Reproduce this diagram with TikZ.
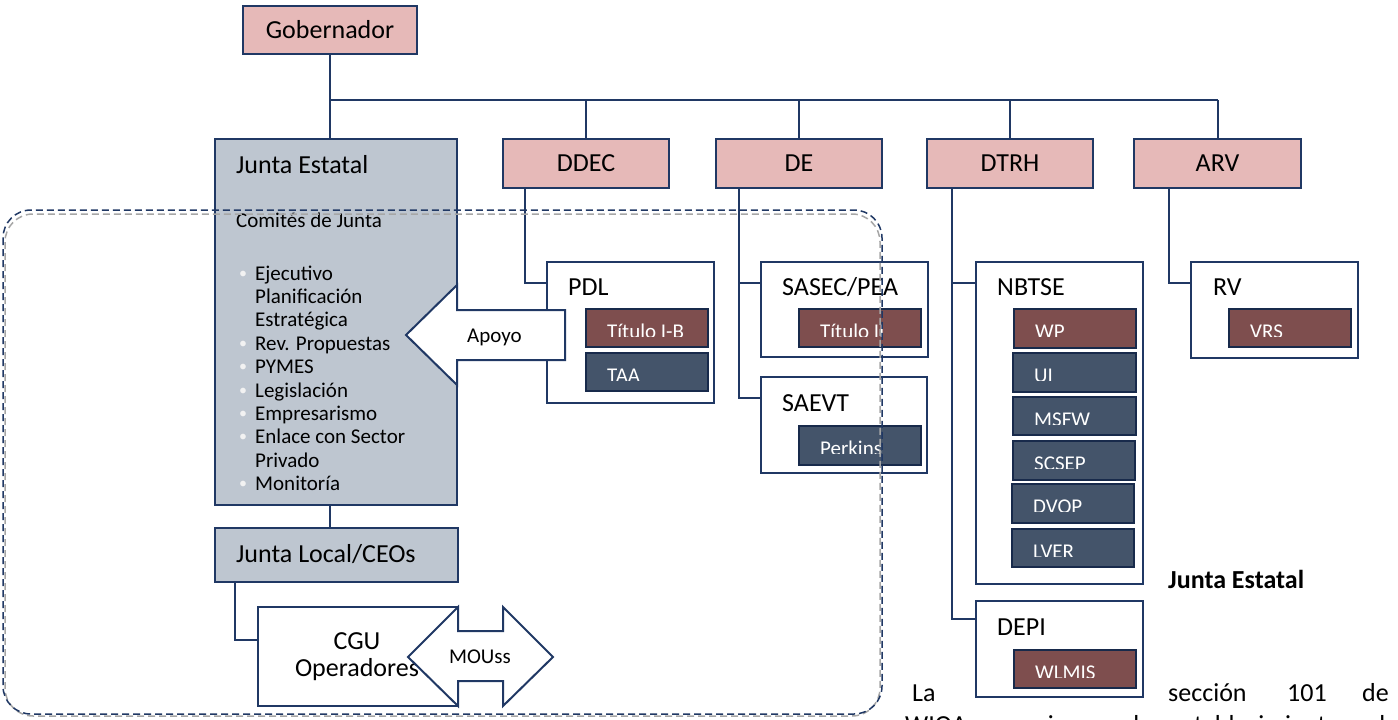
\documentclass[tikz,border=0pt]{standalone}
\usepackage{fontspec}
\setmainfont{Carlito}
\usetikzlibrary{calc}
\definecolor{navy}{HTML}{203864}
\definecolor{pinkf}{HTML}{E6B9B8}
\definecolor{greyf}{HTML}{BEC6D0}
\definecolor{maroonf}{HTML}{7E4E4E}
\definecolor{slatef}{HTML}{44546A}
\definecolor{shadowgrey}{HTML}{A6A6A6}
\definecolor{bullc}{HTML}{F2F2F2}
\tikzset{
 box/.style={draw=navy, line width=2bp, inner sep=0pt, outer sep=0pt},
 pinkbox/.style={box, fill=pinkf},
 greybox/.style={box, fill=greyf},
 whitebox/.style={box, fill=white},
 labbox/.style={draw=navy!75!black, line width=2bp, inner sep=0pt, outer sep=0pt},
 conn/.style={draw=navy, line width=2bp},
 big/.style={font=\fontsize{26bp}{31bp}\selectfont, inner sep=0pt, text=black},
 small/.style={font=\fontsize{21bp}{24bp}\selectfont, inner sep=0pt, text=black},
 labtext/.style={small, text=white},
 arrowshape/.style={draw=navy, line width=2bp, fill=white, line join=miter},
 dashline/.style={line width=1.5bp, dash pattern=on 7bp off 4bp, rounded corners=28bp},
}
\newcommand\bx[7]{\node[#1, minimum width={(#5-#3)*1bp}, minimum height={(#6-#4)*1bp}] (#2) at ({(#3+#5)/2},{(#4+#6)/2}) {#7};}
\newcommand\lb[7]{%
 \node[labbox, fill=#6, minimum width={(#4-#2)*1bp}, minimum height={(#5-#3)*1bp}] (#1) at ({(#2+#4)/2},{(#3+#5)/2}) {};
 \begin{scope}
 \clip ({#2},{#3}) rectangle ({#4},{#3+27});
 \node[labtext, anchor=base west] (#1t) at ({#2+21},{#3+29.5}) {#7};
 \end{scope}}
\begin{document}
\begin{tikzpicture}[x=1bp, y=-1bp]
\useasboundingbox (0,0) rectangle (1398,719);
% top level boxes
\bx{pinkbox, big}{gob}{243}{6}{417}{54}{Gobernador}
\bx{greybox}{je}{215}{139}{457}{505}{}
\bx{pinkbox, big}{ddec}{503}{139}{669}{188}{DDEC}
\bx{pinkbox, big}{de}{716}{139}{882}{188}{DE}
\bx{pinkbox, big}{dtrh}{927}{139}{1093}{188}{DTRH}
\bx{pinkbox, big}{arv}{1134}{139}{1301}{188}{ARV}
\bx{greybox}{jl}{215}{528}{458}{582}{}
\bx{whitebox}{cgu}{258}{607}{458}{706}{}
% second level boxes
\bx{whitebox}{pdl}{547}{262}{714}{403}{}
\bx{whitebox}{sasec}{761}{262}{928}{357}{}
\bx{whitebox}{saevt}{761}{377}{927}{473}{}
\bx{whitebox}{nbtse}{976}{262}{1143}{584}{}
\bx{whitebox}{depi}{976}{601}{1143}{697}{}
\bx{whitebox}{rv}{1191}{262}{1358}{358}{}
% connectors
\coordinate (bus) at (0,100);
\draw[conn] (gob.south) -- (gob.south |- je.north);
\draw[conn] (gob.south |- bus) -- (arv.north |- bus);
\foreach \n in {ddec,de,dtrh,arv} \draw[conn] (\n.north) -- (\n.north |- bus);
\draw[conn] ([xshift=-6bp]je.south) -- ([xshift=-6bp]je.south |- jl.north);
\draw[conn] ([xshift=20bp]jl.south west) |- ([yshift=-33bp]cgu.north west);
\draw[conn] ([xshift=22bp]ddec.south west) |- ([yshift=-21bp]pdl.north west);
\coordinate (dej) at ([xshift=23bp]de.south west);
\draw[conn] (dej) |- ([yshift=-21bp]saevt.north west);
\draw[conn] ([yshift=-21bp]sasec.north west) -| (dej);
\coordinate (dtj) at ([xshift=25bp]dtrh.south west);
\draw[conn] (dtj) |- ([yshift=-18bp]depi.north west);
\draw[conn] ([yshift=-21bp]nbtse.north west) -| (dtj);
\draw[conn] ([xshift=35bp]arv.south west) |- ([yshift=-21bp]rv.north west);
% titles
\node[big, anchor=base west] (jet) at (236,173) {Junta Estatal};
\node[small, anchor=base west] (com) at (236,227) {Comités de Junta};
\foreach \b/\t [count=\i from 0] in {1/Ejecutivo,0/Planificación,0/Estratégica,1/Rev. Propuestas,1/PYMES,1/Legislación,1/Empresarismo,1/Enlace con Sector,0/Privado,1/Monitoría}{
 \node[small, anchor=base west] (it\i) at (255,{280+23.4*\i}) {\t};
 \ifnum\b=1 \node[font=\fontsize{16bp}{18bp}\selectfont, inner sep=0pt, text=bullc, anchor=base west] (bu\i) at (239,{278+23.4*\i}) {•};\fi
}
\node[big, anchor=base west] (jlt) at (236,562) {Junta Local/CEOs};
\node[big] (cgu1) at (357,641) {CGU};
\node[big] (cgu2) at (357,670) {Operadores};
\node[big, anchor=base west] (pdlt) at (568,295) {PDL};
\node[big, anchor=base west] (sasect) at (782,295) {SASEC/PEA};
\node[big, anchor=base west] (saevtt) at (782,411) {SAEVT};
\node[big, anchor=base west] (nbtset) at (997,295) {NBTSE};
\node[big, anchor=base west] (rvt) at (1213,295) {RV};
\node[big, anchor=base west] (depit) at (997,635) {DEPI};
% label boxes
\lb{tib}{586}{309}{708}{347}{maroonf}{Título I-B}
\lb{taa}{586}{353}{708}{391}{slatef}{TAA}
\lb{tii}{799}{309}{921}{347}{maroonf}{Título II}
\lb{perk}{799}{426}{921}{465}{slatef}{Perkins}
\lb{wp}{1014}{309}{1136}{348}{maroonf}{WP}
\lb{ui}{1013}{353}{1136}{392}{slatef}{UI}
\lb{msfw}{1013}{397}{1136}{435}{slatef}{MSFW}
\lb{scsep}{1013}{441}{1135}{480}{slatef}{SCSEP}
\lb{dvop}{1012}{484}{1134}{523}{slatef}{DVOP}
\lb{lver}{1012}{529}{1134}{567}{slatef}{LVER}
\lb{wlmis}{1014}{650}{1136}{688}{maroonf}{WLMIS}
\lb{vrs}{1229}{309}{1351}{347}{maroonf}{VRS}
% arrows
\draw[arrowshape] (406,335) -- (457,285) -- (457,310) -- (565,310) -- (565,360) -- (457,360) -- (457,385) -- cycle;
\node[small, anchor=base west] (apoyo) at (467,342) {Apoyo};
\draw[arrowshape] (408,657) -- (458,607) -- (458,631) -- (503,631) -- (503,607) -- (553,657) -- (503,706) -- (503,681) -- (458,681) -- (458,706) -- cycle;
\node[small] (mou) at (480,657) {MOUss};
% side text
\node[big, font=\fontsize{26bp}{31bp}\selectfont\bfseries, anchor=base west] (jeb) at (1168,588) {Junta Estatal};
\node[big, anchor=base west] (la) at (912,701) {La};
\node[big, anchor=base west] (secc) at (1168,701) {sección};
\node[big, anchor=base west] (n101) at (1287,701) {101};
\node[big, anchor=base west] (de1) at (1362,701) {de};
\node[big, anchor=base west] (line2) at (905,733) {\makebox[493bp][s]{WIOA requiere el establecimiento de}};
% dashed region
\draw[dashline, draw=shadowgrey] (5,214) rectangle (880,716);
\draw[dashline, draw=navy] (3,210) rectangle (882,714);
\end{tikzpicture}
\end{document}
